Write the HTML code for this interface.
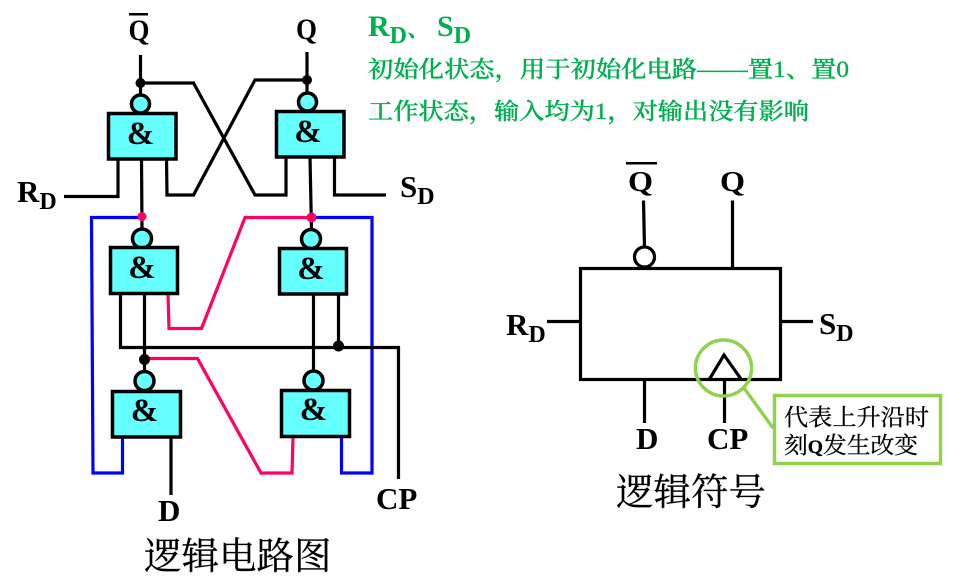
<!DOCTYPE html>
<html><head><meta charset="utf-8">
<style>
html,body{margin:0;padding:0;background:#fff}
svg{display:block}
.l{font-family:"Liberation Serif","Noto Serif CJK SC",serif;font-weight:bold;fill:#000}
.c{font-family:"Noto Serif CJK SC","Liberation Serif",serif;stroke:#000;stroke-width:.25px}
.g{font-family:"Liberation Serif","Noto Serif CJK SC",serif;fill:#00b050;stroke:#00b050;stroke-width:.35px;font-size:23px;font-weight:500}
</style></head>
<body>
<svg width="953" height="581" viewBox="0 0 953 581" xmlns="http://www.w3.org/2000/svg">
<g fill="none" stroke-linejoin="miter">
<!-- blue -->
<path d="M142 217.500H91.500L93 473H122.500V437" stroke="#0000ff" stroke-width="3.200"/>
<path d="M311 217.500H372V473H341.500V437" stroke="#0000ff" stroke-width="3.200"/>
<!-- pink -->
<path d="M311 217.500H245L201.500 328.500H169L168 294" stroke="#ff0066" stroke-width="3.200"/>
<path d="M144 358.500H197.500L261 473H292L293 437" stroke="#ff0066" stroke-width="3.200"/>
<!-- black wires -->
<g stroke="#000" stroke-width="3.200">
<path d="M140.500 55V95"/><path d="M307 52V93"/>
<path d="M140.500 83H193.500L255 195H286V157"/>
<path d="M307 80H255L193.500 195H167L166.500 159"/>
<path d="M118 159V196.500H64"/>
<path d="M334.500 157V195H386"/>
<path d="M141.500 159L142 229"/><path d="M310 157L311.500 230"/>
<path d="M120.500 294V347.500H398.500V479"/>
<path d="M144.500 294V372"/>
<path d="M313.500 294V371"/>
<path d="M338.500 294V346"/>
<path d="M171 437V495"/>
</g>
</g>
<!-- gates -->
<g fill="#66ffff" stroke="#000" stroke-width="3.500">
<circle cx="140.500" cy="104" r="9"/><circle cx="307.500" cy="102" r="9"/>
<circle cx="142" cy="238.500" r="9.500"/><circle cx="311" cy="239" r="9.500"/>
<circle cx="144.500" cy="381" r="9.500"/><circle cx="313.500" cy="380.500" r="9.500"/>
<rect x="108.500" y="113.500" width="67.500" height="45.500"/>
<rect x="276.500" y="111.500" width="67.500" height="45.500"/>
<rect x="110.500" y="247.500" width="67" height="46"/>
<rect x="279.500" y="248.500" width="67" height="45.500"/>
<rect x="112.500" y="391.500" width="68" height="45.500"/>
<rect x="281.500" y="390.500" width="68" height="46"/>
</g>
<g class="l" font-size="33" text-anchor="middle">
<text x="140.500" y="144">&amp;</text><text x="308" y="142">&amp;</text>
<text x="142" y="278">&amp;</text><text x="311" y="279">&amp;</text>
<text x="144.500" y="421">&amp;</text><text x="313.500" y="420">&amp;</text>
</g>
<!-- dots -->
<circle cx="140.500" cy="83" r="5" fill="#000"/><circle cx="307" cy="80" r="5" fill="#000"/>
<circle cx="144.500" cy="359.500" r="5.500" fill="#000"/><circle cx="338.500" cy="346" r="5.500" fill="#000"/>
<circle cx="142" cy="216.500" r="4.500" fill="#ff0066"/><circle cx="311.500" cy="217.500" r="5" fill="#ff0066"/>
<!-- left labels -->
<g class="l" font-size="30">
<text x="128.500" y="40" textLength="21" lengthAdjust="spacingAndGlyphs">Q</text>
<text x="296" y="39" textLength="21" lengthAdjust="spacingAndGlyphs">Q</text>
<text x="17" y="202" font-size="31">R<tspan font-size="24" dy="7">D</tspan></text>
<text x="400" y="197" font-size="31">S<tspan font-size="24" dy="7">D</tspan></text>
<text x="158" y="521" font-size="31">D</text>
<text x="376" y="509" font-size="31">CP</text>
</g>
<rect x="129" y="13" width="19" height="2.500" fill="#000"/>
<text class="c" x="144" y="569" font-size="37.500" fill="#000">逻辑电路图</text>
<!-- green text -->
<g class="l" style="fill:#00b050" font-size="30">
<text x="368" y="36">R<tspan font-size="24" dy="7">D</tspan><tspan dy="-7" font-size="23">、</tspan></text>
<text x="437" y="36">S<tspan font-size="24" dy="7">D</tspan></text>
</g>
<text class="g" x="368" y="77" textLength="481" lengthAdjust="spacingAndGlyphs">初始化状态，用于初始化电路——置1、置0</text>
<text class="g" x="368" y="119" textLength="441" lengthAdjust="spacingAndGlyphs">工作状态，输入均为1，对输出没有影响</text>
<!-- symbol -->
<g fill="none" stroke="#000" stroke-width="3.200">
<path d="M643.500 200.500L644.500 248"/>
<path d="M732.500 200.500V268"/>
<rect x="580.500" y="268.500" width="200" height="111"/>
<path d="M547 321.500H580"/><path d="M781 321.500H813"/>
<path d="M644.500 380V423"/><path d="M724.500 380V423"/>
<path d="M709.500 379L724 355L741 379"/>
<circle cx="644.500" cy="257" r="10" fill="#fff"/>
</g>
<g class="l" font-size="28">
<text x="628" y="191" textLength="25" lengthAdjust="spacingAndGlyphs">Q</text>
<text x="720" y="191" textLength="25" lengthAdjust="spacingAndGlyphs">Q</text>
<text x="506" y="335" font-size="31">R<tspan font-size="24" dy="7">D</tspan></text>
<text x="819" y="334" font-size="31">S<tspan font-size="24" dy="7">D</tspan></text>
<text x="636" y="449" font-size="31">D</text>
<text x="707" y="449" font-size="31">CP</text>
</g>
<rect x="626" y="162" width="31" height="2.500" fill="#000"/>
<circle cx="723.500" cy="368" r="28" fill="none" stroke="#92d050" stroke-width="3.500"/>
<path d="M744 388L773 428" stroke="#92d050" stroke-width="3.500" fill="none"/>
<rect x="774.500" y="395.500" width="166" height="68" fill="#fff" stroke="#92d050" stroke-width="3.500"/>
<g class="c" font-size="23" fill="#000">
<text x="784" y="425" textLength="145" lengthAdjust="spacingAndGlyphs">代表上升沿时</text>
<text x="784" y="453" textLength="134" lengthAdjust="spacingAndGlyphs">刻<tspan font-size="19" style="font-weight:bold;font-family:'Liberation Serif'">Q</tspan>发生改变</text>
</g>
<text class="c" x="616" y="505" font-size="37.500" fill="#000">逻辑符号</text>
</svg>
</body></html>
